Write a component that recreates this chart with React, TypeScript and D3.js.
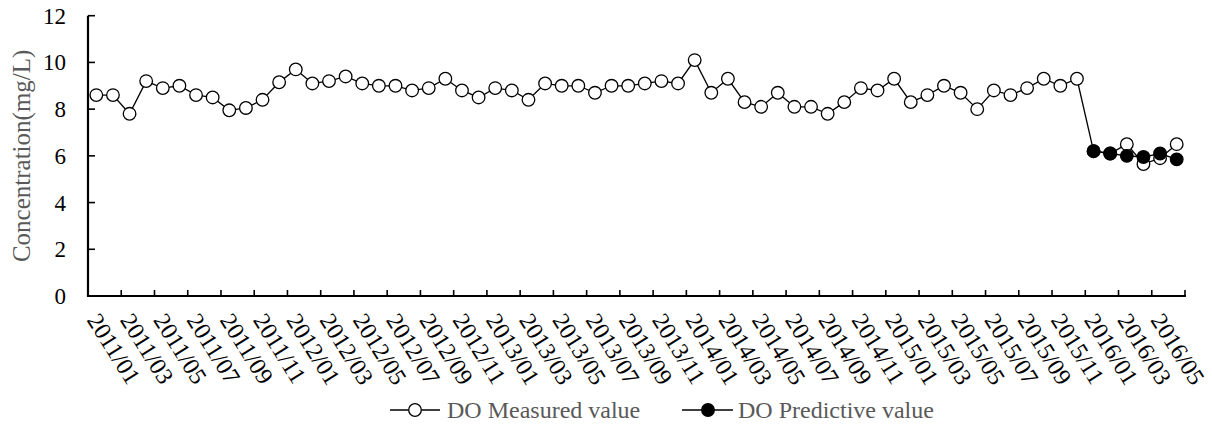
import React from 'react'
import * as d3 from 'd3'

const months = [
  '2011/01', '2011/02', '2011/03', '2011/04', '2011/05', '2011/06', '2011/07', '2011/08', '2011/09', '2011/10', '2011/11', '2011/12',
  '2012/01', '2012/02', '2012/03', '2012/04', '2012/05', '2012/06', '2012/07', '2012/08', '2012/09', '2012/10', '2012/11', '2012/12',
  '2013/01', '2013/02', '2013/03', '2013/04', '2013/05', '2013/06', '2013/07', '2013/08', '2013/09', '2013/10', '2013/11', '2013/12',
  '2014/01', '2014/02', '2014/03', '2014/04', '2014/05', '2014/06', '2014/07', '2014/08', '2014/09', '2014/10', '2014/11', '2014/12',
  '2015/01', '2015/02', '2015/03', '2015/04', '2015/05', '2015/06', '2015/07', '2015/08', '2015/09', '2015/10', '2015/11', '2015/12',
  '2016/01', '2016/02', '2016/03', '2016/04', '2016/05', '2016/06',
]

const measured = [
  8.6, 8.6, 7.8, 9.2, 8.9, 9.0, 8.6, 8.5, 7.95, 8.05, 8.4, 9.15,
  9.7, 9.1, 9.2, 9.4, 9.1, 9.0, 9.0, 8.8, 8.9, 9.3, 8.8, 8.5,
  8.9, 8.8, 8.4, 9.1, 9.0, 9.0, 8.7, 9.0, 9.0, 9.1, 9.2, 9.1,
  10.1, 8.7, 9.3, 8.3, 8.1, 8.7, 8.1, 8.1, 7.8, 8.3, 8.9, 8.8,
  9.3, 8.3, 8.6, 9.0, 8.7, 8.0, 8.8, 8.6, 8.9, 9.3, 9.0, 9.3,
  6.2, 6.1, 6.5, 5.65, 5.9, 6.5,
]

// prediction covers the last six months only
const predictedMonths = ['2016/01', '2016/02', '2016/03', '2016/04', '2016/05', '2016/06']
const predicted = [6.2, 6.1, 6.0, 5.95, 6.1, 5.85]

const yTicks = [0, 2, 4, 6, 8, 10, 12]

const FONT = '"Liberation Serif", "Times New Roman", serif'
const GREY = '#595959'

const App = () => {
  const width = 1212
  const height = 426
  const left = 88
  const right = 1185
  const top = 15.7
  const bottom = 296

  const x = d3.scaleBand().domain(months).range([left, right]).padding(0)
  const y = d3.scaleLinear().domain([0, 12]).range([bottom, top])
  const bw = x.bandwidth()
  const cx = (m) => x(m) + bw / 2

  const measuredPts = months.map((m, i) => ({ m, v: measured[i] }))
  const predictedPts = predictedMonths.map((m, i) => ({ m, v: predicted[i] }))

  const line = d3.line().x((d) => cx(d.m)).y((d) => y(d.v))

  const labelled = months.filter((_, i) => i % 2 === 0)
  const tickEdges = d3.range(0, months.length + 1, 2).map((i) => left + i * bw)

  return (
    <div style={{ position: 'absolute', left: 0, top: 0 }}>
      <svg width={width} height={height} style={{ display: 'block', background: '#fff' }}>
        {/* series */}
        <path d={line(measuredPts)} fill="none" stroke="#000" strokeWidth={1.3} />
        {measuredPts.map((d) => (
          <circle key={'m' + d.m} cx={cx(d.m)} cy={y(d.v)} r={6.3} fill="#fff" stroke="#000" strokeWidth={1.3} />
        ))}
        <path d={line(predictedPts)} fill="none" stroke="#000" strokeWidth={1.3} />
        {predictedPts.map((d) => (
          <circle key={'p' + d.m} cx={cx(d.m)} cy={y(d.v)} r={6.3} fill="#000" stroke="#000" strokeWidth={1.3} />
        ))}

        {/* axes */}
        <line x1={left} x2={left} y1={top} y2={bottom} stroke="#000" strokeWidth={2.2} />
        <line x1={left - 1.1} x2={right + 1} y1={bottom} y2={bottom} stroke="#000" strokeWidth={2.2} />
        {yTicks.map((t) => (
          <g key={'y' + t}>
            <line x1={left} x2={left + 7} y1={y(t)} y2={y(t)} stroke="#000" strokeWidth={1.6} />
            <text x={66} y={y(t)} dy="0.35em" textAnchor="end" fontFamily={FONT} fontSize={23} fill="#000">{t}</text>
          </g>
        ))}
        {tickEdges.map((e, i) => (
          <line key={'xt' + i} x1={e} x2={e} y1={bottom} y2={bottom - 6} stroke="#000" strokeWidth={1.6} />
        ))}
        {labelled.map((m) => (
          <text
            key={'xl' + m}
            transform={`translate(${cx(m) - 10},${bottom + 24}) rotate(58)`}
            fontFamily={FONT} fontSize={24} fill="#000"
          >{m}</text>
        ))}

        {/* y title */}
        <text
          transform={`translate(30,${(top + bottom) / 2}) rotate(-90)`}
          textAnchor="middle" fontFamily={FONT} fontSize={25} fill={GREY}
        >Concentration(mg/L)</text>

        {/* legend */}
        <g fontFamily={FONT} fontSize={24} fill={GREY}>
          <line x1={390} x2={440} y1={410} y2={410} stroke="#000" strokeWidth={1.3} />
          <circle cx={415} cy={410} r={6.3} fill="#fff" stroke="#000" strokeWidth={1.3} />
          <text x={447} y={417.5}>DO Measured value</text>
          <line x1={682} x2={733} y1={410} y2={410} stroke="#000" strokeWidth={1.3} />
          <circle cx={708} cy={410} r={6.3} fill="#000" stroke="#000" strokeWidth={1.3} />
          <text x={738} y={417.5}>DO Predictive value</text>
        </g>
      </svg>
    </div>
  )
}

export default App
